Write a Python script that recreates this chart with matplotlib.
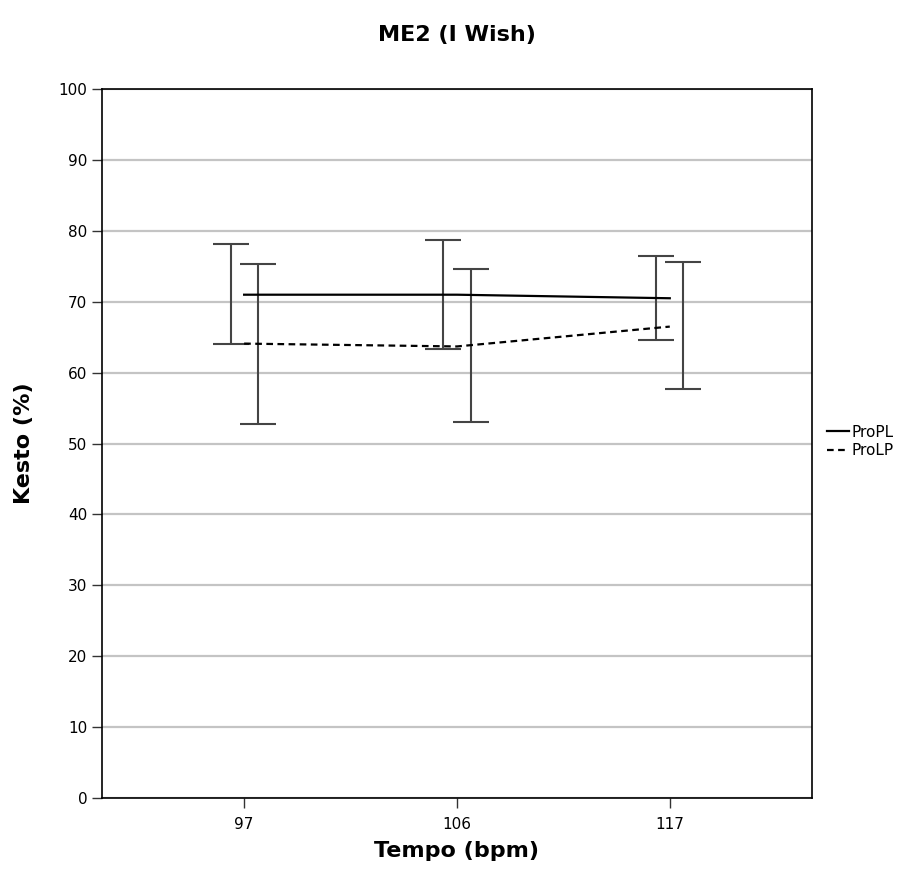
import numpy as np
import matplotlib
matplotlib.use('Agg')
import matplotlib.pyplot as plt

# data
tempos = ['97', '106', '117']
propl_mean = [71.0, 71.0, 70.5]
propl_low = [64.0, 63.4, 64.6]
propl_high = [78.1, 78.7, 76.4]
prolp_mean = [64.1, 63.7, 66.5]
prolp_low = [52.8, 53.0, 57.7]
prolp_high = [75.4, 74.6, 75.6]

plt.rcParams['font.family'] = 'DejaVu Sans'

fig = plt.figure(figsize=(9.12, 8.74), dpi=100)
ax = fig.add_axes([0.1118, 0.087, 0.7785, 0.811])

x = np.arange(len(tempos))
dodge = 0.064

# error bars (dodged), lines through the category centres
for off, mean, lo, hi in [(-dodge, propl_mean, propl_low, propl_high),
                          (dodge, prolp_mean, prolp_low, prolp_high)]:
    mean = np.array(mean)
    err = [mean - np.array(lo), np.array(hi) - mean]
    ax.errorbar(x + off, mean, yerr=err, fmt='none', ecolor='#444444',
                elinewidth=1.5, capsize=13, capthick=1.5, zorder=3)

ax.plot(x, propl_mean, color='black', lw=1.6, ls='-', label='ProPL', zorder=4)
ax.plot(x, prolp_mean, color='black', lw=1.6, ls=(0, (3, 2)), label='ProLP', zorder=4)

ax.set_xlim(-0.668, 2.668)
ax.set_ylim(0, 100)
ax.set_xticks(x)
ax.set_xticklabels(tempos)
ax.set_yticks(np.arange(0, 101, 10))
ax.yaxis.grid(True, color='#c4c4c4', lw=1.6)
ax.set_axisbelow(True)
ax.tick_params(axis='both', labelsize=11, length=7, width=1, color='#333333')
ax.tick_params(axis='x', pad=7)
for s in ax.spines.values():
    s.set_linewidth(1.2)
    s.set_color('black')

ax.set_title('ME2 (I Wish)', fontsize=16, fontweight='bold', pad=35)
ax.set_xlabel('Tempo (bpm)', fontsize=16, fontweight='bold', labelpad=6)
ax.set_ylabel('Kesto (%)', fontsize=16, fontweight='bold', labelpad=18)

fig.legend(loc='center left', bbox_to_anchor=(0.892, 0.495), frameon=False,
           fontsize=11, handlelength=1.4, handletextpad=0.2, labelspacing=0.2)

fig.savefig('out.png', dpi=100)
